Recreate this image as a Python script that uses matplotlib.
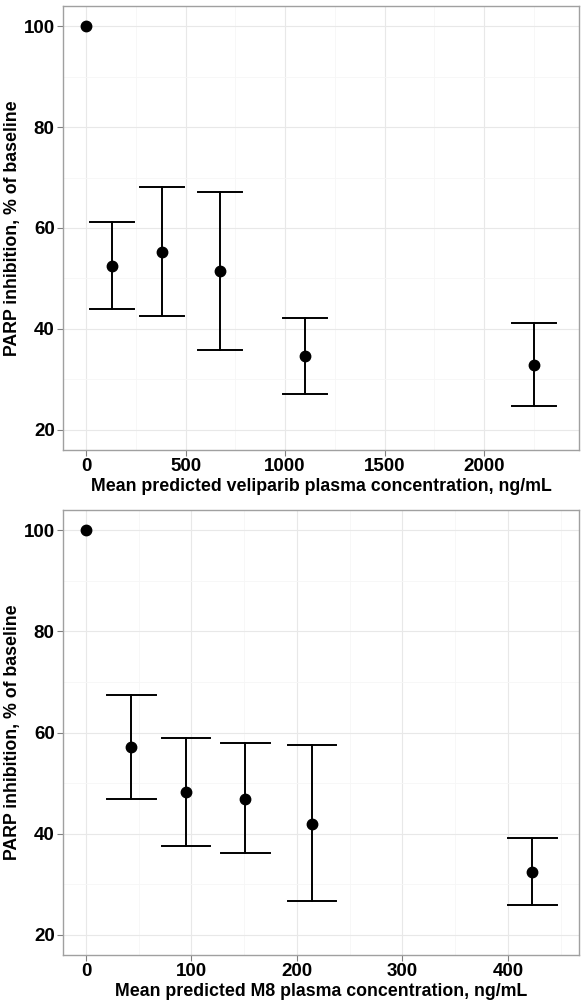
import matplotlib
matplotlib.use("Agg")
import matplotlib.pyplot as plt
from matplotlib.ticker import MultipleLocator

plt.rcParams['font.family'] = ['Liberation Sans', 'DejaVu Sans']
plt.rcParams['font.weight'] = 'bold'

# Top panel: veliparib
vel_conc = [0, 131, 382, 675, 1099, 2251]
vel_mean = [100, 52.5, 55.3, 51.5, 34.7, 32.9]
vel_low = [None, 43.9, 42.6, 35.8, 27.1, 24.8]
vel_high = [None, 61.2, 68.1, 67.2, 42.2, 41.1]

# Bottom panel: M8
m8_conc = [0, 43, 95, 151, 214, 423]
m8_mean = [100, 57.2, 48.3, 46.9, 42.0, 32.4]
m8_low = [None, 46.9, 37.6, 36.1, 26.6, 25.8]
m8_high = [None, 67.4, 59.0, 57.9, 57.5, 39.1]

y_ticks = [20, 40, 60, 80, 100]
vel_xticks = [0, 500, 1000, 1500, 2000]
m8_xticks = [0, 100, 200, 300, 400]

ylabel = "PARP inhibition, % of baseline"
vel_xlabel = "Mean predicted veliparib plasma concentration, ng/mL"
m8_xlabel = "Mean predicted M8 plasma concentration, ng/mL"

fig = plt.figure(figsize=(5.86, 10.05), dpi=100)

def panel(rect, x, m, lo, hi, xticks, xlim, capw, xminor, xlabel):
    ax = fig.add_axes(rect)
    ax.set_xlim(*xlim)
    ax.set_ylim(16.0, 104.0)
    ax.set_xticks(xticks)
    ax.set_yticks(y_ticks)
    ax.xaxis.set_minor_locator(MultipleLocator(xminor))
    ax.yaxis.set_minor_locator(MultipleLocator(10))
    ax.grid(True, which='major', color='#e8e8e8', lw=0.8)
    ax.grid(True, which='minor', color='#f6f6f6', lw=0.6)
    ax.set_axisbelow(True)
    for s in ax.spines.values():
        s.set_color('#a0a0a0')
        s.set_linewidth(1.0)
    ax.tick_params(which='major', direction='out', length=4, width=0.8,
                   color='#808080', labelsize=13.5, pad=2)
    ax.tick_params(which='minor', length=0)
    for lab in ax.get_xticklabels() + ax.get_yticklabels():
        lab.set_fontweight('bold')
    for xi, mi, l, h in zip(x, m, lo, hi):
        if l is not None:
            ax.plot([xi, xi], [l, h], color='black', lw=1.4, zorder=3)
            ax.plot([xi - capw / 2, xi + capw / 2], [l, l], color='black', lw=1.4, zorder=3)
            ax.plot([xi - capw / 2, xi + capw / 2], [h, h], color='black', lw=1.4, zorder=3)
    ax.plot(x, m, 'o', color='black', ms=7.5, zorder=4)
    ax.set_ylabel(ylabel, fontsize=12.8, fontweight='bold')
    ax.yaxis.set_label_coords(-0.082, 0.5)
    ax.set_xlabel(xlabel, fontsize=12.8, fontweight='bold', labelpad=2)
    return ax

panel([63/586, 1-450/1005, 516/586, 444/1005], vel_conc, vel_mean, vel_low, vel_high,
      vel_xticks, (-116, 2477), 222, 250, vel_xlabel)
panel([63/586, 1-955/1005, 516/586, 445/1005], m8_conc, m8_mean, m8_low, m8_high,
      m8_xticks, (-21.8, 467.3), 46, 50, m8_xlabel)

fig.savefig("out.png", dpi=100)
